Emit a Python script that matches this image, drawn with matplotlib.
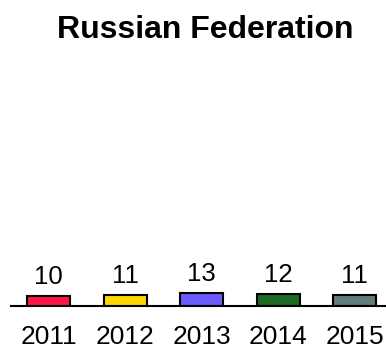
import matplotlib
matplotlib.use("Agg")
import matplotlib.pyplot as plt

years = ["2011", "2012", "2013", "2014", "2015"]
values = [10, 11, 13, 12, 11]
colors = ["#FF1744", "#FFD600", "#6A5CFF", "#1B6B25", "#627D7D"]
title = "Russian Federation"

plt.rcParams["font.family"] = ["Liberation Sans", "DejaVu Sans"]

fig = plt.figure(figsize=(3.86, 3.49), dpi=100)
# axes laid out in pixels: baseline at y=306, bar spacing ~76.5 px
ax = fig.add_axes([10.5 / 386, 43 / 349, 382.5 / 386, 240 / 349])

x = list(range(len(years)))
bars = ax.bar(x, values, width=0.56, color=colors, edgecolor="black", linewidth=1.5)
ax.set_xlim(-0.5, 4.5)
ax.set_ylim(0, 248)

for xi, v in zip(x, values):
    ax.annotate(str(v), (xi, v), xytext=(0, 5), textcoords="offset points",
                ha="center", va="bottom", fontsize=18.5)

ax.set_xticks(x)
ax.set_xticklabels(years, fontsize=19)
ax.tick_params(axis="x", length=0, pad=13.5)
ax.set_yticks([])
for side in ["left", "right", "top"]:
    ax.spines[side].set_visible(False)
ax.spines["bottom"].set_linewidth(1.5)

fig.text(0.532, 0.915, title, ha="center", va="center", fontsize=23, fontweight="bold")

fig.savefig("out.png", dpi=100)
